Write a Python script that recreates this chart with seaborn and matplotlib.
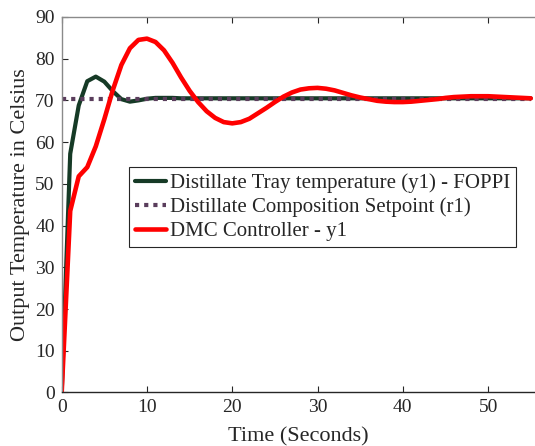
import numpy as np
import pandas as pd
import matplotlib
matplotlib.use("Agg")
import matplotlib.pyplot as plt
import seaborn as sns

time_s = list(range(0, 56))
foppi_y1 = [0, 57.2, 68.8, 74.6, 75.7, 74.5, 72.2, 70.3, 69.7, 70.0,
            70.4, 70.6, 70.6, 70.6, 70.5, 70.5, 70.5, 70.5, 70.5, 70.5,
            70.5, 70.5, 70.5, 70.5, 70.5, 70.5, 70.5, 70.5, 70.5, 70.5,
            70.5, 70.5, 70.5, 70.5, 70.5, 70.5, 70.5, 70.5, 70.5, 70.5,
            70.5, 70.5, 70.5, 70.5, 70.5, 70.5, 70.5, 70.5, 70.5, 70.5,
            70.5, 70.5, 70.5, 70.5, 70.5, 70.5]
dmc_y1 = [0, 43.5, 51.8, 54.0, 59.0, 65.5, 72.5, 78.5, 82.5, 84.5,
          84.8, 84.0, 82.0, 79.0, 75.5, 72.3, 69.6, 67.4, 65.8, 64.8,
          64.5, 64.8, 65.6, 66.9, 68.2, 69.6, 70.9, 71.9, 72.6, 72.9,
          73.0, 72.8, 72.4, 71.8, 71.2, 70.7, 70.3, 69.9, 69.7, 69.6,
          69.6, 69.7, 69.9, 70.1, 70.3, 70.6, 70.8, 70.9, 71.0, 71.0,
          71.0, 70.9, 70.8, 70.7, 70.6, 70.5]
setpoint_r1 = [70.4] * len(time_s)

labels = ["Distillate Tray temperature (y1) - FOPPI",
          "Distillate Composition Setpoint (r1)",
          "DMC Controller - y1"]
x_ticks = [0, 10, 20, 30, 40, 50]
y_ticks = [0, 10, 20, 30, 40, 50, 60, 70, 80, 90]

sns.set_theme(style="white")
plt.rcParams['font.family'] = ['Liberation Serif', 'DejaVu Serif']

df = pd.DataFrame({"t": time_s, "foppi": foppi_y1, "sp": setpoint_r1, "dmc": dmc_y1})

fig = plt.figure(figsize=(5.35, 4.46), dpi=100)
ax = fig.add_axes([0.1153, 0.12, 0.8847, 0.842])

sns.lineplot(data=df, x="t", y="foppi", ax=ax, color="#163a26", linewidth=3.0, label=labels[0])
sns.lineplot(data=df, x="t", y="sp", ax=ax, color="#5a3d5c", linewidth=3.0,
             linestyle=(0, (1, 1.2)), label=labels[1])
sns.lineplot(data=df, x="t", y="dmc", ax=ax, color="#ff0000", linewidth=3.3, label=labels[2])

ax.set_xlim(0, 55.5)
ax.set_ylim(0, 90)
ax.set_xticks(x_ticks)
ax.set_yticks(y_ticks)
ax.tick_params(direction="in", length=4, width=0.8, labelsize=14, colors="#262626",
               top=True, bottom=True, left=True, right=False, pad=5)
for s in ["left", "top"]:
    ax.spines[s].set_color("#8a8a8a")
    ax.spines[s].set_linewidth(1.0)
ax.spines["bottom"].set_color("#262626")
ax.spines["bottom"].set_linewidth(1.0)
ax.spines["right"].set_visible(False)

ax.set_xlabel("Time (Seconds)", fontsize=16, color="#262626", labelpad=8)
ax.set_ylabel("Output Temperature in Celsius", fontsize=16, color="#262626", labelpad=4)

leg = ax.legend(loc="upper left", bbox_to_anchor=(0.142, 0.60), fontsize=15,
                frameon=True, fancybox=False, edgecolor="#262626", framealpha=1,
                handlelength=1.5, handletextpad=0.15, borderpad=0.3, labelspacing=0.2,
                borderaxespad=0)
leg.get_frame().set_linewidth(0.8)
for t in leg.get_texts():
    t.set_color("#262626")

fig.savefig("out.png", dpi=100)
